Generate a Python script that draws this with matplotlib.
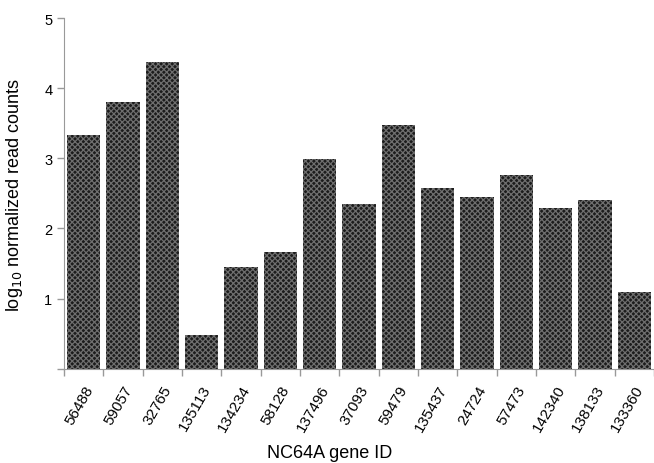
import matplotlib.pyplot as plt
import matplotlib as mpl
import numpy as np

plt.rcParams['font.family'] = ['Liberation Sans', 'DejaVu Sans']
mpl.rcParams['hatch.linewidth'] = 0.9

genes = ['56488', '59057', '32765', '135113', '134234', '58128', '137496',
         '37093', '59479', '135437', '24724', '57473', '142340', '138133', '133360']
log_counts = [3.33, 3.81, 4.37, 0.48, 1.45, 1.67, 2.99,
              2.35, 3.47, 2.58, 2.45, 2.76, 2.29, 2.41, 1.10]

fig = plt.figure(figsize=(6.54, 4.64), dpi=100)
ax = fig.add_axes([0.098, 0.203, 0.902, 0.756])

x = np.arange(len(genes))
ax.bar(x, log_counts, width=0.85, facecolor='#1c1c1c', edgecolor='#6e6e6e',
       hatch='xxxxxx', linewidth=0)

ax.set_xlim(-0.5, len(genes) - 0.5)
ax.set_ylim(0, 5)
ax.set_yticks([0, 1, 2, 3, 4, 5])
ax.set_yticklabels(['', '1', '2', '3', '4', '5'], fontsize=10.5)
ax.set_xticks(np.arange(len(genes) + 1) - 0.5)
ax.set_xticklabels([])
ax.set_xticks(x, minor=True)
ax.set_xticklabels(genes, minor=True, rotation=60, ha='right',
                   rotation_mode='anchor', fontsize=11)
ax.tick_params(axis='x', which='minor', length=0, pad=10)
ax.tick_params(axis='both', which='major', length=5, color='#999999', width=1)

for s in ['top', 'right']:
    ax.spines[s].set_visible(False)
for s in ['left', 'bottom']:
    ax.spines[s].set_color('#999999')

ax.set_ylabel('log$_{10}$ normalized read counts', fontsize=13, labelpad=14)
ax.set_xlabel('NC64A gene ID', fontsize=13, labelpad=6)
ax.xaxis.set_label_coords(0.45, -0.215)

fig.savefig('out.png', dpi=100)
